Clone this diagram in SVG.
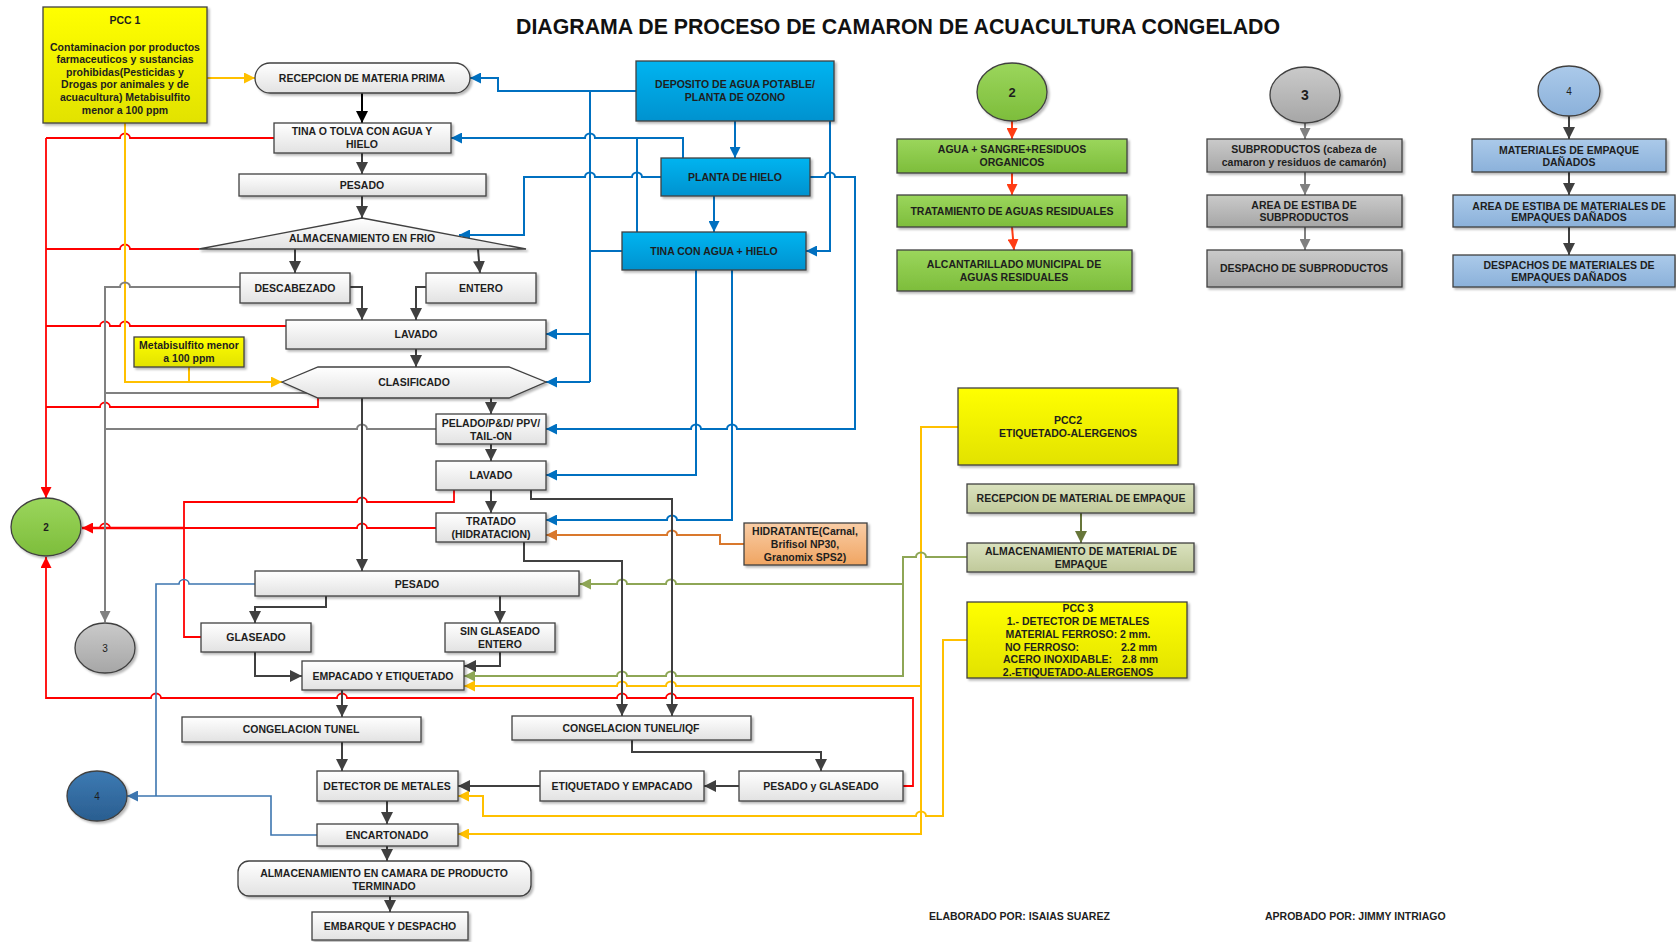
<svg xmlns="http://www.w3.org/2000/svg" width="1676" height="942" viewBox="0 0 1676 942">
<defs>
<linearGradient id="gW" x1="0" y1="0" x2="0" y2="1"><stop offset="0" stop-color="#ffffff"/><stop offset="1" stop-color="#e2e2e2"/></linearGradient>
<linearGradient id="gB" x1="0" y1="0" x2="0" y2="1"><stop offset="0" stop-color="#00b4f0"/><stop offset="1" stop-color="#0092cf"/></linearGradient>
<linearGradient id="gY" x1="0" y1="0" x2="0" y2="1"><stop offset="0" stop-color="#ffff00"/><stop offset="1" stop-color="#e2e200"/></linearGradient>
<linearGradient id="gG" x1="0" y1="0" x2="0" y2="1"><stop offset="0" stop-color="#9bd65c"/><stop offset="1" stop-color="#7dbd3b"/></linearGradient>
<linearGradient id="gGr" x1="0" y1="0" x2="0" y2="1"><stop offset="0" stop-color="#cacaca"/><stop offset="1" stop-color="#a6a6a6"/></linearGradient>
<linearGradient id="gLB" x1="0" y1="0" x2="0" y2="1"><stop offset="0" stop-color="#abcaea"/><stop offset="1" stop-color="#8bb1da"/></linearGradient>
<linearGradient id="gOl" x1="0" y1="0" x2="0" y2="1"><stop offset="0" stop-color="#dae2be"/><stop offset="1" stop-color="#c0c99a"/></linearGradient>
<linearGradient id="gOr" x1="0" y1="0" x2="0" y2="1"><stop offset="0" stop-color="#f9cda6"/><stop offset="1" stop-color="#f0a562"/></linearGradient>
<linearGradient id="gDB" x1="0" y1="0" x2="0" y2="1"><stop offset="0" stop-color="#3d7ab3"/><stop offset="1" stop-color="#2a5e90"/></linearGradient>
<filter id="sh" x="-10%" y="-10%" width="130%" height="150%"><feDropShadow dx="2" dy="2" stdDeviation="1.2" flood-color="#000" flood-opacity="0.28"/></filter>
<marker id="mBk" markerUnits="userSpaceOnUse" markerWidth="12" markerHeight="12" viewBox="0 0 10 10" refX="10" refY="5" orient="auto"><path d="M0,0 L10,5 L0,10 z" fill="#404040"/></marker>
<marker id="mK" markerUnits="userSpaceOnUse" markerWidth="12" markerHeight="12" viewBox="0 0 10 10" refX="10" refY="5" orient="auto"><path d="M0,0 L10,5 L0,10 z" fill="#000"/></marker>
<marker id="mBl" markerUnits="userSpaceOnUse" markerWidth="11" markerHeight="11" viewBox="0 0 10 10" refX="10" refY="5" orient="auto"><path d="M0,0 L10,5 L0,10 z" fill="#0070c0"/></marker>
<marker id="mR" markerUnits="userSpaceOnUse" markerWidth="11" markerHeight="11" viewBox="0 0 10 10" refX="10" refY="5" orient="auto"><path d="M0,0 L10,5 L0,10 z" fill="#ff0000"/></marker>
<marker id="mRO" markerUnits="userSpaceOnUse" markerWidth="11" markerHeight="11" viewBox="0 0 10 10" refX="10" refY="5" orient="auto"><path d="M0,0 L10,5 L0,10 z" fill="#ff3c14"/></marker>
<marker id="mY" markerUnits="userSpaceOnUse" markerWidth="11" markerHeight="11" viewBox="0 0 10 10" refX="10" refY="5" orient="auto"><path d="M0,0 L10,5 L0,10 z" fill="#ffc000"/></marker>
<marker id="mGr" markerUnits="userSpaceOnUse" markerWidth="11" markerHeight="11" viewBox="0 0 10 10" refX="10" refY="5" orient="auto"><path d="M0,0 L10,5 L0,10 z" fill="#808080"/></marker>
<marker id="mGn" markerUnits="userSpaceOnUse" markerWidth="11" markerHeight="11" viewBox="0 0 10 10" refX="10" refY="5" orient="auto"><path d="M0,0 L10,5 L0,10 z" fill="#8ea656"/></marker>
<marker id="mOl" markerUnits="userSpaceOnUse" markerWidth="12" markerHeight="12" viewBox="0 0 10 10" refX="10" refY="5" orient="auto"><path d="M0,0 L10,5 L0,10 z" fill="#67763a"/></marker>
<marker id="mSt" markerUnits="userSpaceOnUse" markerWidth="11" markerHeight="11" viewBox="0 0 10 10" refX="10" refY="5" orient="auto"><path d="M0,0 L10,5 L0,10 z" fill="#3d76b0"/></marker>
<marker id="mOr" markerUnits="userSpaceOnUse" markerWidth="11" markerHeight="11" viewBox="0 0 10 10" refX="10" refY="5" orient="auto"><path d="M0,0 L10,5 L0,10 z" fill="#d9782d"/></marker>
</defs>
<style>
.n{stroke:#404040;stroke-width:1.3;filter:url(#sh)}
.w{fill:url(#gW)}
.b{fill:url(#gB)}
.y{fill:url(#gY)}
.g{fill:url(#gG)}
.gr{fill:url(#gGr)}
.lb{fill:url(#gLB)}
.ol{fill:url(#gOl)}
.t{font-family:"Liberation Sans",Arial,Helvetica,sans-serif;font-weight:bold;font-size:10.5px;fill:#1e1e1e;text-anchor:middle}
.s{font-size:10px}
.c{fill:none;stroke-width:2;stroke-linejoin:miter}
.bk{stroke:#404040}
.bl{stroke:#0070c0}
.rd{stroke:#ff0000;stroke-width:1.8}
.ye{stroke:#ffc000}
.gy{stroke:#808080}
.gn{stroke:#8ea656}
.st{stroke:#3d76b0;stroke-width:1.6}
.or{stroke:#d9782d}
</style>
<rect width="1676" height="942" fill="#ffffff"/>
<text x="898" y="34" class="t" style="font-size:21.3px;fill:#111">DIAGRAMA DE PROCESO DE CAMARON DE ACUACULTURA CONGELADO</text>

<g id="connectors">
<path class="c bl" d="M636,91 H498 V78 H470" marker-end="url(#mBl)"/>
<path class="c bl" d="M590,91 V382"/>
<path class="c bl" d="M590,334 H546" marker-end="url(#mBl)"/>
<path class="c bl" d="M590,382 H546" marker-end="url(#mBl)"/>
<path class="c bl" d="M622,251 H590"/>
<path class="c bl" d="M683,158 V138 H595 a5 4.5 0 0 0 -10 0 H451" marker-end="url(#mBl)"/>
<path class="c bl" d="M637,232 V138"/>
<path class="c bl" d="M661,177 H642 a5 4.5 0 0 0 -10 0 H595 a5 4.5 0 0 0 -10 0 H524 V235 H459" marker-end="url(#mBl)"/>
<path class="c bl" d="M810,177 H825 a5 4.5 0 0 1 10 0 H855 V429 H737 a5 4.5 0 0 0 -10 0 H701 a5 4.5 0 0 0 -10 0 H546" marker-end="url(#mBl)"/>
<path class="c bl" d="M735,121 V158" marker-end="url(#mBl)"/>
<path class="c bl" d="M714,196 V232" marker-end="url(#mBl)"/>
<path class="c bl" d="M830,121 V251 H806" marker-end="url(#mBl)"/>
<path class="c bl" d="M696,270 V475 H546" marker-end="url(#mBl)"/>
<path class="c bl" d="M732,270 V520 H677 a5 4.5 0 0 0 -10 0 H546" marker-end="url(#mBl)"/>
<path class="c rd" d="M274,138 H130 a5 4.5 0 0 0 -10 0 H46"/>
<path class="c rd" d="M199,249 H130 a5 4.5 0 0 0 -10 0 H46"/>
<path class="c rd" d="M286,326 H130 a5 4.5 0 0 0 -10 0 H110 a5 4.5 0 0 0 -10 0 H46"/>
<path class="c rd" d="M318,398 V407 H110 a5 4.5 0 0 0 -10 0 H46"/>
<path class="c rd" d="M46,138 V498" marker-end="url(#mR)"/>
<path class="c rd" d="M454,490 V502 H367 a5 4.5 0 0 0 -10 0 H184 V528"/>
<path class="c rd" d="M436,528 H367 a5 4.5 0 0 0 -10 0 H110 a5 4.5 0 0 0 -10 0 H82" marker-end="url(#mR)"/>
<path class="c rd" d="M184,528 H82" style="stroke-width:2.6"/>
<path class="c rd" d="M201,637 H184 V528"/>
<path class="c rd" d="M903,786 H913 V698 H676 a5 4.5 0 0 0 -10 0 H627 a5 4.5 0 0 0 -10 0 H347 a5 4.5 0 0 0 -10 0 H161 a5 4.5 0 0 0 -10 0 H46 V557" marker-end="url(#mR)"/>
<path class="c ye" d="M207,78 H255" marker-end="url(#mY)"/>
<path class="c ye" d="M125,123 V382 H282" marker-end="url(#mY)"/>
<path class="c ye" d="M189,367 V382"/>
<path class="c ye" d="M958,427 H921 V834 H458" marker-end="url(#mY)"/>
<path class="c ye" d="M921,686 H676 a5 4.5 0 0 0 -10 0 H627 a5 4.5 0 0 0 -10 0 H464" marker-end="url(#mY)"/>
<path class="c ye" d="M967,640 H943 V816 H926 a5 4.5 0 0 0 -10 0 H483 V796 H458" marker-end="url(#mY)"/>
<path class="c gn" d="M967,557 H926 a5 4.5 0 0 0 -10 0 H903 V676 H676 a5 4.5 0 0 0 -10 0 H627 a5 4.5 0 0 0 -10 0 H464" marker-end="url(#mGn)"/>
<path class="c gn" d="M903,584 H676 a5 4.5 0 0 0 -10 0 H627 a5 4.5 0 0 0 -10 0 H580" marker-end="url(#mGn)"/>
<path class="c gy" d="M240,287 H130 a5 4.5 0 0 0 -10 0 H105 V622" marker-end="url(#mGr)"/>
<path class="c gy" d="M307,393 H105"/>
<path class="c gy" d="M436,429 H367 a5 4.5 0 0 0 -10 0 H105"/>
<path class="c st" d="M255,584 H189 a5 4.5 0 0 0 -10 0 H156 V796"/>
<path class="c st" d="M317,835 H271 V796 H127" marker-end="url(#mSt)"/>
<path class="c or" d="M744,544 H720 V535 H677 a5 4.5 0 0 0 -10 0 H546" marker-end="url(#mOr)"/>
<path class="c" stroke="#000" d="M362,93 V123" marker-end="url(#mK)"/>
<path class="c bk" d="M362,153 V174" marker-end="url(#mBk)"/>
<path class="c bk" d="M362,196 V218" marker-end="url(#mBk)"/>
<path class="c bk" d="M295,249 V273" marker-end="url(#mBk)"/>
<path class="c bk" d="M478,249 L480,273" marker-end="url(#mBk)"/>
<path class="c bk" d="M350,287 H362 V320" marker-end="url(#mBk)"/>
<path class="c bk" d="M426,287 H416 V320" marker-end="url(#mBk)"/>
<path class="c bk" d="M416,349 V367" marker-end="url(#mBk)"/>
<path class="c bk" d="M491,398 V414" marker-end="url(#mBk)"/>
<path class="c bk" d="M362,398 V571" marker-end="url(#mBk)"/>
<path class="c bk" d="M491,444 V461" marker-end="url(#mBk)"/>
<path class="c bk" d="M491,490 V513" marker-end="url(#mBk)"/>
<path class="c bk" d="M531,490 V499 H672 V716" marker-end="url(#mBk)"/>
<path class="c bk" d="M524,542 V561 H622 V716" marker-end="url(#mBk)"/>
<path class="c bk" d="M326,596 V607 H255 V623" marker-end="url(#mBk)"/>
<path class="c bk" d="M500,596 V623" marker-end="url(#mBk)"/>
<path class="c bk" d="M255,652 V676 H302" marker-end="url(#mBk)"/>
<path class="c bk" d="M500,652 V666 H464" marker-end="url(#mBk)"/>
<path class="c bk" d="M342,690 V717" marker-end="url(#mBk)"/>
<path class="c bk" d="M342,742 V771" marker-end="url(#mBk)"/>
<path class="c bk" d="M387,801 V824" marker-end="url(#mBk)"/>
<path class="c bk" d="M387,846 V861" marker-end="url(#mBk)"/>
<path class="c bk" d="M390,896 V912" marker-end="url(#mBk)"/>
<path class="c bk" d="M632,740 V752 H821 V771" marker-end="url(#mBk)"/>
<path class="c bk" d="M739,786 H704" marker-end="url(#mBk)"/>
<path class="c bk" d="M540,786 H458" marker-end="url(#mBk)"/>
<path class="c" stroke="#ff3c14" d="M1012,121 V139" marker-end="url(#mRO)"/>
<path class="c" stroke="#ff3c14" d="M1012,173 V195" marker-end="url(#mRO)"/>
<path class="c" stroke="#ff3c14" d="M1012,227 L1014,250" marker-end="url(#mRO)"/>
<path class="c gy" d="M1305,123 V139" marker-end="url(#mGr)"/>
<path class="c gy" d="M1305,172 V195" marker-end="url(#mGr)"/>
<path class="c gy" d="M1305,227 V250" marker-end="url(#mGr)"/>
<path class="c bk" d="M1569,116 V139" marker-end="url(#mBk)"/>
<path class="c bk" d="M1569,172 V195" marker-end="url(#mBk)"/>
<path class="c bk" d="M1569,227 V255" marker-end="url(#mBk)"/>
<path class="c" stroke="#67763a" d="M1081,513 V543" marker-end="url(#mOl)"/>
</g>

<g id="pcc1"><rect class="n y" x="43" y="7" width="164" height="116"/>
<text class="t" x="125" y="24">PCC 1</text>
<text class="t" x="125" y="51">Contaminacion por productos</text>
<text class="t" x="125" y="63">farmaceuticos y sustancias</text>
<text class="t" x="125" y="76">prohibidas(Pesticidas y</text>
<text class="t" x="125" y="88">Drogas por animales y de</text>
<text class="t" x="125" y="101">acuacultura) Metabisulfito</text>
<text class="t" x="125" y="114">menor a 100 ppm</text></g>
<g id="recepcion"><rect class="n w" x="255" y="63" width="215" height="30" rx="15"/><text class="t" x="362" y="82">RECEPCION DE MATERIA PRIMA</text></g>
<g id="tina-tolva"><rect class="n w" x="274" y="123" width="177" height="30"/><text class="t" x="362" y="135">TINA O TOLVA CON AGUA Y</text><text class="t" x="362" y="148">HIELO</text></g>
<g id="pesado1"><rect class="n w" x="239" y="174" width="247" height="22"/><text class="t" x="362" y="189">PESADO</text></g>
<g id="almacen-frio"><polygon class="n w" points="362,218 526,249 199,249"/><text class="t" x="362" y="242">ALMACENAMIENTO EN FRIO</text></g>
<g id="descabezado"><rect class="n w" x="240" y="273" width="110" height="30"/><text class="t" x="295" y="292">DESCABEZADO</text></g>
<g id="entero"><rect class="n w" x="426" y="273" width="110" height="30"/><text class="t" x="481" y="292">ENTERO</text></g>
<g id="lavado1"><rect class="n w" x="286" y="320" width="260" height="29"/><text class="t" x="416" y="338">LAVADO</text></g>
<g id="metabisulfito"><rect class="n y" x="134" y="337" width="110" height="30"/><text class="t" x="189" y="349">Metabisulfito menor</text><text class="t" x="189" y="362">a 100 ppm</text></g>
<g id="clasificado"><polygon class="n w" points="282,382 318,367 509,367 546,382 509,398 318,398"/><text class="t" x="414" y="386">CLASIFICADO</text></g>
<g id="pelado"><rect class="n w" x="436" y="414" width="110" height="30"/><text class="t" x="491" y="427">PELADO/P&amp;D/ PPV/</text><text class="t" x="491" y="440">TAIL-ON</text></g>
<g id="lavado2"><rect class="n w" x="436" y="461" width="110" height="29"/><text class="t" x="491" y="479">LAVADO</text></g>
<g id="tratado"><rect class="n w" x="436" y="513" width="110" height="29"/><text class="t" x="491" y="525">TRATADO</text><text class="t" x="491" y="538">(HIDRATACION)</text></g>
<g id="pesado2"><rect class="n w" x="255" y="571" width="324" height="25"/><text class="t" x="417" y="588">PESADO</text></g>
<g id="glaseado"><rect class="n w" x="201" y="623" width="110" height="29"/><text class="t" x="256" y="641">GLASEADO</text></g>
<g id="sin-glaseado"><rect class="n w" x="445" y="623" width="110" height="29"/><text class="t" x="500" y="635">SIN GLASEADO</text><text class="t" x="500" y="648">ENTERO</text></g>
<g id="empacado"><rect class="n w" x="302" y="661" width="162" height="29"/><text class="t" x="383" y="680">EMPACADO Y ETIQUETADO</text></g>
<g id="cong-tunel"><rect class="n w" x="182" y="717" width="239" height="25"/><text class="t" x="301" y="733">CONGELACION TUNEL</text></g>
<g id="cong-iqf"><rect class="n w" x="512" y="716" width="239" height="24"/><text class="t" x="631" y="732">CONGELACION TUNEL/IQF</text></g>
<g id="detector"><rect class="n w" x="317" y="771" width="141" height="30"/><text class="t" x="387" y="790">DETECTOR DE METALES</text></g>
<g id="etiquetado"><rect class="n w" x="540" y="771" width="164" height="30"/><text class="t" x="622" y="790">ETIQUETADO Y EMPACADO</text></g>
<g id="pesado-glaseado"><rect class="n w" x="739" y="771" width="164" height="30"/><text class="t" x="821" y="790">PESADO y GLASEADO</text></g>
<g id="encartonado"><rect class="n w" x="317" y="824" width="141" height="22"/><text class="t" x="387" y="839">ENCARTONADO</text></g>
<g id="almacen-camara"><rect class="n w" x="238" y="861" width="293" height="35" rx="11"/><text class="t" x="384" y="877">ALMACENAMIENTO EN CAMARA DE PRODUCTO</text><text class="t" x="384" y="890">TERMINADO</text></g>
<g id="embarque"><rect class="n w" x="312" y="912" width="156" height="28"/><text class="t" x="390" y="930">EMBARQUE Y DESPACHO</text></g>
<g id="deposito"><rect class="n b" x="636" y="61" width="198" height="60"/><text class="t" x="735" y="88">DEPOSITO DE AGUA POTABLE/</text><text class="t" x="735" y="101">PLANTA DE OZONO</text></g>
<g id="planta-hielo"><rect class="n b" x="661" y="158" width="149" height="38"/><text class="t" x="735" y="181">PLANTA DE HIELO</text></g>
<g id="tina-agua"><rect class="n b" x="622" y="232" width="184" height="38"/><text class="t" x="714" y="255">TINA CON AGUA + HIELO</text></g>
<g id="hidratante"><rect class="n" fill="url(#gOr)" x="744" y="523" width="123" height="42"/><text class="t" x="805" y="535">HIDRATANTE(Carnal,</text><text class="t" x="805" y="548">Brifisol NP30,</text><text class="t" x="805" y="561">Granomix SPS2)</text></g>
<g id="c2-left"><ellipse class="n g" cx="46" cy="527" rx="35" ry="29"/><text class="t s" x="46" y="531">2</text></g>
<g id="c3-left"><ellipse class="n gr" cx="105" cy="648" rx="30" ry="25"/><text class="t s" x="105" y="652" style="font-weight:normal">3</text></g>
<g id="c4-left"><ellipse class="n" fill="url(#gDB)" stroke="#1a1a1a" cx="97" cy="796" rx="30" ry="25"/><text class="t s" x="97" y="800" style="font-weight:normal">4</text></g>

<g id="c2-top"><ellipse class="n g" cx="1012" cy="92" rx="35" ry="29"/><text class="t" x="1012" y="97" style="font-size:13px">2</text></g>
<g id="agua-sangre"><rect class="n g" x="897" y="139" width="230" height="34"/><text class="t" x="1012" y="153">AGUA + SANGRE+RESIDUOS</text><text class="t" x="1012" y="166">ORGANICOS</text></g>
<g id="tratamiento"><rect class="n g" x="897" y="195" width="230" height="32"/><text class="t" x="1012" y="215">TRATAMIENTO DE AGUAS RESIDUALES</text></g>
<g id="alcantarillado"><rect class="n g" x="897" y="250" width="235" height="41"/><text class="t" x="1014" y="268">ALCANTARILLADO MUNICIPAL DE</text><text class="t" x="1014" y="281">AGUAS RESIDUALES</text></g>
<g id="c3-top"><ellipse class="n gr" cx="1305" cy="95" rx="35" ry="28"/><text class="t" x="1305" y="100" style="font-size:14px">3</text></g>
<g id="subproductos"><rect class="n gr" x="1207" y="139" width="195" height="33"/><text class="t" x="1304" y="153">SUBPRODUCTOS (cabeza de</text><text class="t" x="1304" y="166">camaron y residuos de camarón)</text></g>
<g id="estiba-sub"><rect class="n gr" x="1207" y="195" width="195" height="32"/><text class="t" x="1304" y="209">AREA DE ESTIBA DE</text><text class="t" x="1304" y="221">SUBPRODUCTOS</text></g>
<g id="despacho-sub"><rect class="n gr" x="1207" y="250" width="195" height="37"/><text class="t" x="1304" y="272">DESPACHO DE SUBPRODUCTOS</text></g>
<g id="c4-top"><ellipse class="n lb" stroke="#1a1a1a" cx="1569" cy="91" rx="31" ry="25"/><text class="t s" x="1569" y="95" style="font-weight:normal">4</text></g>
<g id="materiales"><rect class="n lb" x="1472" y="139" width="194" height="33"/><text class="t" x="1569" y="154">MATERIALES DE EMPAQUE</text><text class="t" x="1569" y="166">DAÑADOS</text></g>
<g id="estiba-mat"><rect class="n lb" x="1453" y="195" width="222" height="32"/><text class="t" x="1569" y="210">AREA DE ESTIBA DE MATERIALES DE</text><text class="t" x="1569" y="221">EMPAQUES DAÑADOS</text></g>
<g id="despachos-mat"><rect class="n lb" x="1453" y="255" width="222" height="32"/><text class="t" x="1569" y="269">DESPACHOS DE MATERIALES DE</text><text class="t" x="1569" y="281">EMPAQUES DAÑADOS</text></g>

<g id="pcc2"><rect class="n y" x="958" y="388" width="220" height="77"/><text class="t" x="1068" y="424">PCC2</text><text class="t" x="1068" y="437">ETIQUETADO-ALERGENOS</text></g>
<g id="recepcion-empaque"><rect class="n ol" x="967" y="484" width="227" height="29"/><text class="t" x="1081" y="502">RECEPCION DE MATERIAL DE EMPAQUE</text></g>
<g id="almacen-empaque"><rect class="n ol" stroke="#1a1a1a" x="967" y="543" width="227" height="29"/><text class="t" x="1081" y="555">ALMACENAMIENTO DE MATERIAL DE</text><text class="t" x="1081" y="568">EMPAQUE</text></g>
<g id="pcc3"><rect class="n y" x="967" y="602" width="220" height="76"/>
<text class="t" x="1078" y="612">PCC 3</text>
<text class="t" x="1078" y="625">1.- DETECTOR DE METALES</text>
<text class="t" x="1078" y="638">MATERIAL FERROSO: 2 mm.</text>
<text class="t" x="1005" y="651" style="text-anchor:start">NO FERROSO:</text><text class="t" x="1121" y="651" style="text-anchor:start">2.2 mm</text>
<text class="t" x="1003" y="663" style="text-anchor:start">ACERO INOXIDABLE:</text><text class="t" x="1122" y="663" style="text-anchor:start">2.8 mm</text>
<text class="t" x="1078" y="676">2.-ETIQUETADO-ALERGENOS</text></g>

<g id="footer">
<text class="t" x="929" y="920" style="text-anchor:start">ELABORADO POR: ISAIAS SUAREZ</text>
<text class="t" x="1265" y="920" style="text-anchor:start">APROBADO POR:  JIMMY INTRIAGO</text>
</g>
</svg>
